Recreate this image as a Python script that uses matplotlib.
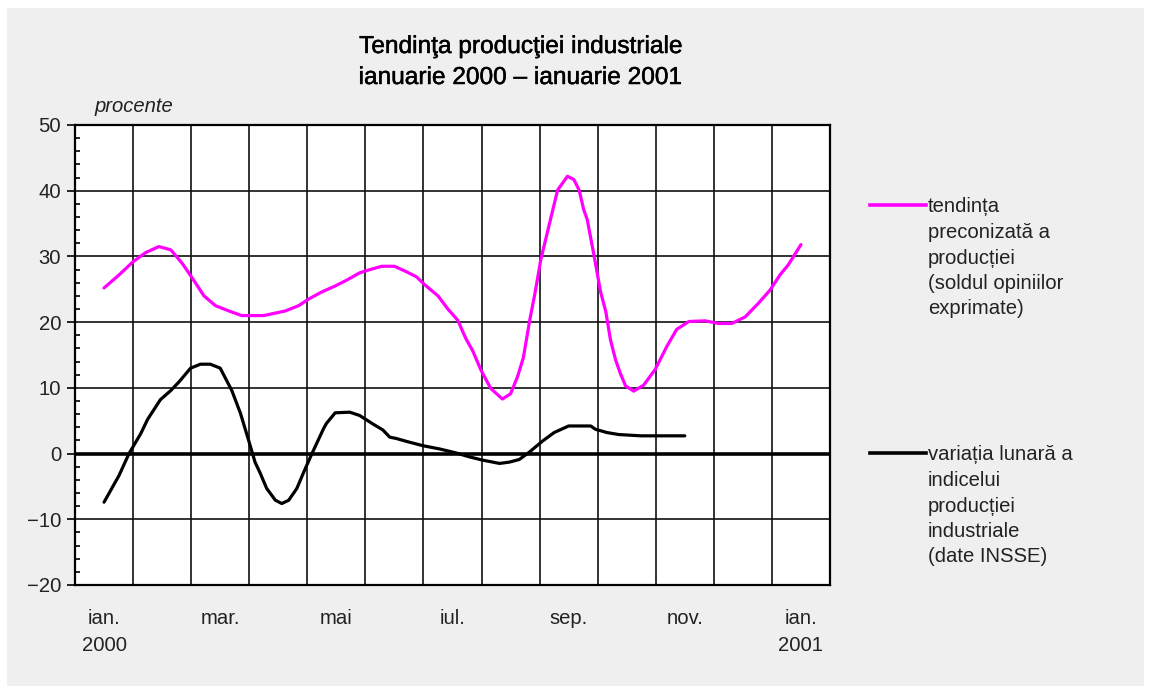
import matplotlib.pyplot as plt
import matplotlib.lines as mlines
import matplotlib.patches as mpatches
import matplotlib.patheffects as pe
import numpy as np

plt.rcParams['font.family'] = ['Liberation Sans', 'DejaVu Sans']

# month position (0 = ian. 2000, 12 = ian. 2001) and value
trend_x = [0, 0.26, 0.5, 0.72, 0.945, 1.15, 1.35, 1.55, 1.72, 1.92, 2.15, 2.37, 2.75,
           3.12, 3.35, 3.52, 3.75, 3.98, 4.18, 4.4, 4.58, 4.78, 5.0, 5.2, 5.38, 5.52,
           5.75, 5.92, 6.09, 6.23, 6.35, 6.49, 6.66, 6.86, 7.0, 7.12, 7.22, 7.33, 7.42,
           7.52, 7.61, 7.70, 7.81, 7.98, 8.09, 8.18, 8.26, 8.32, 8.44, 8.55, 8.64, 8.72,
           8.81, 8.89, 8.98, 9.12, 9.29, 9.49, 9.69, 9.86, 10.07, 10.35, 10.58, 10.81,
           11.04, 11.27, 11.47, 11.64, 11.78, 12.0]
trend_y = [25.2, 27.2, 29.2, 30.6, 31.5, 31.0, 28.9, 26.3, 24.0, 22.5, 21.7, 21.0, 21.0,
           21.7, 22.5, 23.5, 24.6, 25.5, 26.4, 27.5, 28.0, 28.5, 28.5, 27.7, 26.9, 25.7,
           24.0, 22.0, 20.3, 17.5, 15.6, 12.7, 9.9, 8.3, 9.1, 11.7, 14.6, 20.3, 24.4,
           29.5, 32.8, 36.1, 40.1, 42.2, 41.7, 40.1, 37.1, 35.6, 30.0, 24.6, 21.6, 17.3,
           14.2, 12.2, 10.3, 9.5, 10.4, 12.8, 16.3, 18.9, 20.1, 20.2, 19.8, 19.8,
           20.8, 22.9, 24.9, 27.2, 28.7, 31.8]

index_x = [0, 0.26, 0.43, 0.63, 0.75, 0.97, 1.15, 1.29, 1.49, 1.66, 1.83, 2.0, 2.2, 2.35,
           2.49, 2.6, 2.69, 2.8, 2.95, 3.06, 3.18, 3.32, 3.43, 3.58, 3.78, 3.83, 3.98,
           4.23, 4.4, 4.63, 4.8, 4.92, 5.03, 5.23, 5.49, 5.78, 6.06, 6.29, 6.52, 6.81,
           6.98, 7.15, 7.32, 7.55, 7.75, 8.0, 8.38, 8.46, 8.66, 8.86, 9.24, 10.0]
index_y = [-7.4, -3.3, 0.0, 3.0, 5.2, 8.2, 9.6, 10.9, 13.0, 13.6, 13.6, 13.0, 9.6, 6.1,
           2.0, -1.3, -3.0, -5.3, -7.1, -7.6, -7.1, -5.3, -3.0, 0.0, 3.8, 4.6, 6.2,
           6.3, 5.8, 4.5, 3.6, 2.5, 2.3, 1.8, 1.2, 0.7, 0.1, -0.5, -1.0, -1.5,
           -1.3, -0.9, 0.2, 1.9, 3.2, 4.2, 4.2, 3.7, 3.2, 2.9, 2.7, 2.7]

tick_pos = [0, 2, 4, 6, 8, 10, 12]
tick_labels = ['ian.\n2000', 'mar.', 'mai', 'iul.', 'sep.', 'nov.', 'ian.\n2001']

trend_label = ['tendința', 'preconizată a', 'producției', '(soldul opiniilor', 'exprimate)']
index_label = ['variația lunară a', 'indicelui', 'producției', 'industriale', '(date INSSE)']

W, H = 1149, 686
FS = 14.6
fig = plt.figure(figsize=(W / 100, H / 100), dpi=100, facecolor='white')
fig.patches.append(mpatches.Rectangle((7 / W, 0), (1144 - 7) / W, 1 - 8 / H,
                                      transform=fig.transFigure, facecolor='#efefef',
                                      edgecolor='none', zorder=-10))

ax = fig.add_axes([75 / W, 1 - 585 / H, (830 - 75) / W, (585 - 125) / H])
ax.set_facecolor('white')
ax.set_xlim(-0.5, 12.5)
ax.set_ylim(-20, 50)

# grid
for k in range(12):
    ax.axvline(k + 0.5, color='#111111', lw=1.2, zorder=1)
for v in range(-10, 50, 10):
    if v != 0:
        ax.axhline(v, color='#111111', lw=1.2, zorder=1)
ax.axhline(0, color='black', lw=2.6, zorder=2)

ax.plot(trend_x, trend_y, color='#ff00ff', lw=2.3, zorder=3,
        solid_joinstyle='round', solid_capstyle='round')
ax.plot(index_x, index_y, color='black', lw=2.3, zorder=3,
        solid_joinstyle='round', solid_capstyle='round')

for s in ax.spines.values():
    s.set_linewidth(1.6)
    s.set_color('black')

ax.set_yticks(range(-20, 51, 10))
ax.set_yticks(np.arange(-20, 51, 2), minor=True)
ax.tick_params(axis='y', which='major', direction='out', length=6, width=1.2,
               labelsize=FS, pad=4, labelcolor='#222222')
ax.tick_params(axis='y', which='minor', direction='in', length=3.5, width=1.2)
ax.set_xticks(tick_pos)
ax.set_xticklabels(tick_labels, linespacing=1.55)
ax.tick_params(axis='x', length=0, labelsize=FS, pad=17, labelcolor='#222222')

fig.text(95 / W, 1 - 107 / H, 'procente', fontsize=FS, style='italic',
         color='#222222', va='center', ha='left')

bolder = [pe.withStroke(linewidth=0.35, foreground='black')]
fig.text(520 / W, 1 - 47 / H, 'Tendinţa producţiei industriale', fontsize=17.6,
         ha='center', va='center', color='black', path_effects=bolder)
fig.text(520 / W, 1 - 78 / H, 'ianuarie 2000 – ianuarie 2001', fontsize=17.6,
         ha='center', va='center', color='black', path_effects=bolder)

# legend drawn by hand, text beside a short line
for color, y0, lines in [('#ff00ff', 205, trend_label), ('black', 453, index_label)]:
    fig.lines.append(mlines.Line2D([870 / W, 926 / W], [1 - y0 / H, 1 - y0 / H],
                                   transform=fig.transFigure, color=color, lw=2.6))
    for i, txt in enumerate(lines):
        fig.text(928 / W, 1 - (y0 + 2 + 25.5 * i) / H, txt, fontsize=FS,
                 ha='left', va='center', color='#222222')

fig.savefig('out.png', dpi=100, facecolor=fig.get_facecolor())
